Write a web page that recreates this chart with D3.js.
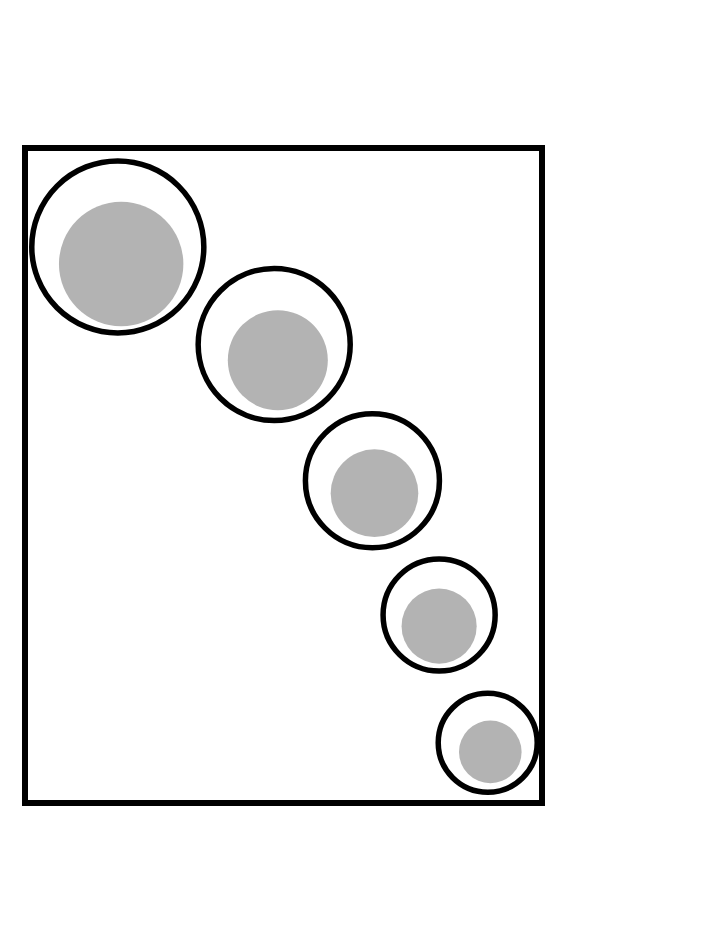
<!DOCTYPE html>
<html>
<head>
<meta charset="utf-8">
<script src="https://cdn.jsdelivr.net/npm/d3@7"></script>
<style>
  html, body { margin: 0; padding: 0; background: #fff; }
  svg { display: block; }
</style>
</head>
<body>
<script>
// Data (abstract units on 0..100 axes)
const items = ["A", "B", "C", "D", "E"];
const outerX = [17.95, 48.2, 67.2, 80.1, 89.5];
const outerY = [84.9, 70.0, 49.2, 28.7, 9.2];
const outerSize = [74.0, 57.8, 44.9, 31.4, 24.5];
const innerX = [18.6, 48.9, 67.6, 80.1, 90.0];
const innerY = [82.3, 67.6, 47.3, 27.0, 7.8];
const innerSize = [38.7, 25.0, 19.2, 14.1, 9.8];

const W = 720, H = 950;
const frame = { left: 25, right: 542, top: 148, bottom: 803 };

const svg = d3.select("body").append("svg")
  .attr("width", W).attr("height", H);

const x = d3.scaleLinear().domain([0, 100]).range([frame.left, frame.right]);
const y = d3.scaleLinear().domain([0, 100]).range([frame.bottom, frame.top]);
const r = d3.scaleSqrt().domain([0, 100]).range([0, 100]);

const data = items.map((k, i) => ({
  key: k,
  ox: outerX[i], oy: outerY[i], os: outerSize[i],
  ix: innerX[i], iy: innerY[i], is: innerSize[i]
}));

// frame
svg.append("rect")
  .attr("x", x(0)).attr("y", y(100))
  .attr("width", x(100) - x(0)).attr("height", y(0) - y(100))
  .attr("fill", "none").attr("stroke", "#000").attr("stroke-width", 6);

// outer rings
svg.selectAll("circle.outer").data(data).join("circle")
  .attr("class", "outer")
  .attr("cx", d => x(d.ox)).attr("cy", d => y(d.oy)).attr("r", d => r(d.os))
  .attr("fill", "none").attr("stroke", "#000").attr("stroke-width", 5.5);

// inner gray discs
svg.selectAll("circle.inner").data(data).join("circle")
  .attr("class", "inner")
  .attr("cx", d => x(d.ix)).attr("cy", d => y(d.iy)).attr("r", d => r(d.is))
  .attr("fill", "#b3b3b3");
</script>
</body>
</html>
